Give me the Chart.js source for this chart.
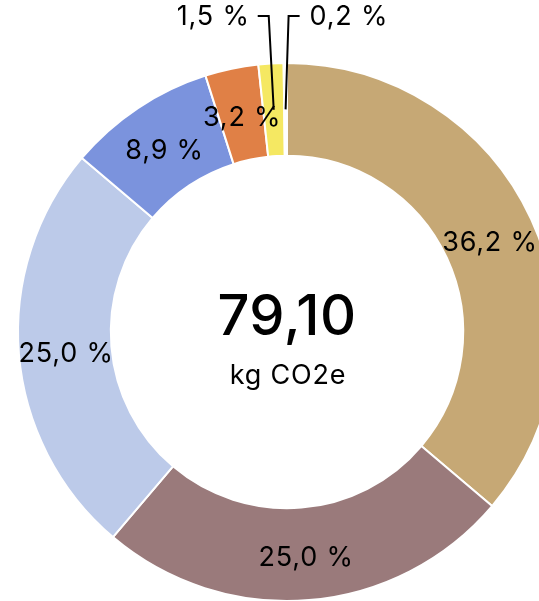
<!DOCTYPE html>
<html>
<head>
<meta charset="utf-8">
<script src="https://cdn.jsdelivr.net/npm/chart.js@4"></script>
<style>
  html, body { margin: 0; padding: 0; background: #fff; overflow: hidden; }
  #wrap { position: absolute; left: 0; top: 0; width: 574px; height: 664px; }
</style>
</head>
<body>
<div id="wrap"><canvas id="myChart"></canvas></div>
<script>
const labels = ['A', 'B', 'C', 'D', 'E', 'F', 'G'];
const shares = [36.2, 25.0, 25.0, 8.9, 3.2, 1.5, 0.2];
const colors = ['#c6a875', '#9a7a7b', '#bccae9', '#7b93dd', '#e08046', '#f5e862', '#ffffff'];
const totalText = '79,10';
const unitText = 'kg CO2e';

const fmt = v => v.toFixed(1).replace('.', ',') + ' %';

// labels on the arcs, small ones pulled out with a leader line
const sliceLabels = {
    id: 'sliceLabels',
    afterDatasetsDraw(chart) {
        const c = chart.ctx;
        const arcs = chart.getDatasetMeta(0).data;
        c.save();
        c.fillStyle = '#000';
        c.strokeStyle = '#000';
        c.lineWidth = 2;
        c.font = '400 27px Inter';
        c.letterSpacing = '0.8px';
        c.textBaseline = 'middle';
        let small = 0;
        arcs.forEach((arc, i) => {
            const p = arc.tooltipPosition();
            const v = shares[i];
            if (v >= 2) {
                c.textAlign = 'center';
                c.fillText(fmt(v), p.x + 1, p.y + 4);
            } else {
                const left = small === 0;
                small++;
                const ey = 16;
                const ex = left ? p.x - 5 : p.x + 3;
                const hx = left ? ex - 11 : ex + 11;
                c.beginPath();
                c.moveTo(p.x, p.y);
                c.lineTo(ex, ey);
                c.lineTo(hx, ey);
                c.stroke();
                c.textAlign = left ? 'right' : 'left';
                c.fillText(fmt(v), left ? hx - 8 : hx + 10, ey + 1);
            }
        });
        c.restore();
    }
};

const centerText = {
    id: 'centerText',
    afterDraw(chart) {
        const c = chart.ctx;
        const a = chart.chartArea;
        const x = (a.left + a.right) / 2;
        const y = (a.top + a.bottom) / 2;
        c.save();
        c.fillStyle = '#000';
        c.textAlign = 'center';
        c.textBaseline = 'middle';
        c.font = '500 56px Inter';
        c.letterSpacing = '0.5px';
        c.fillText(totalText, x, y - 14);
        c.font = '400 27px Inter';
        c.letterSpacing = '0.8px';
        c.fillText(unitText, x + 1, y + 44);
        c.restore();
    }
};

new Chart(document.getElementById('myChart'), {
    type: 'doughnut',
    data: {
        labels: labels,
        datasets: [{
            data: shares,
            backgroundColor: colors,
            borderColor: '#fff',
            borderWidth: 2
        }]
    },
    options: {
        responsive: true,
        maintainAspectRatio: false,
        animation: false,
        cutout: '65.5%',
        layout: { padding: 17 },
        plugins: {
            legend: { display: false },
            tooltip: { enabled: false }
        }
    },
    plugins: [sliceLabels, centerText]
});
</script>
</body>
</html>
